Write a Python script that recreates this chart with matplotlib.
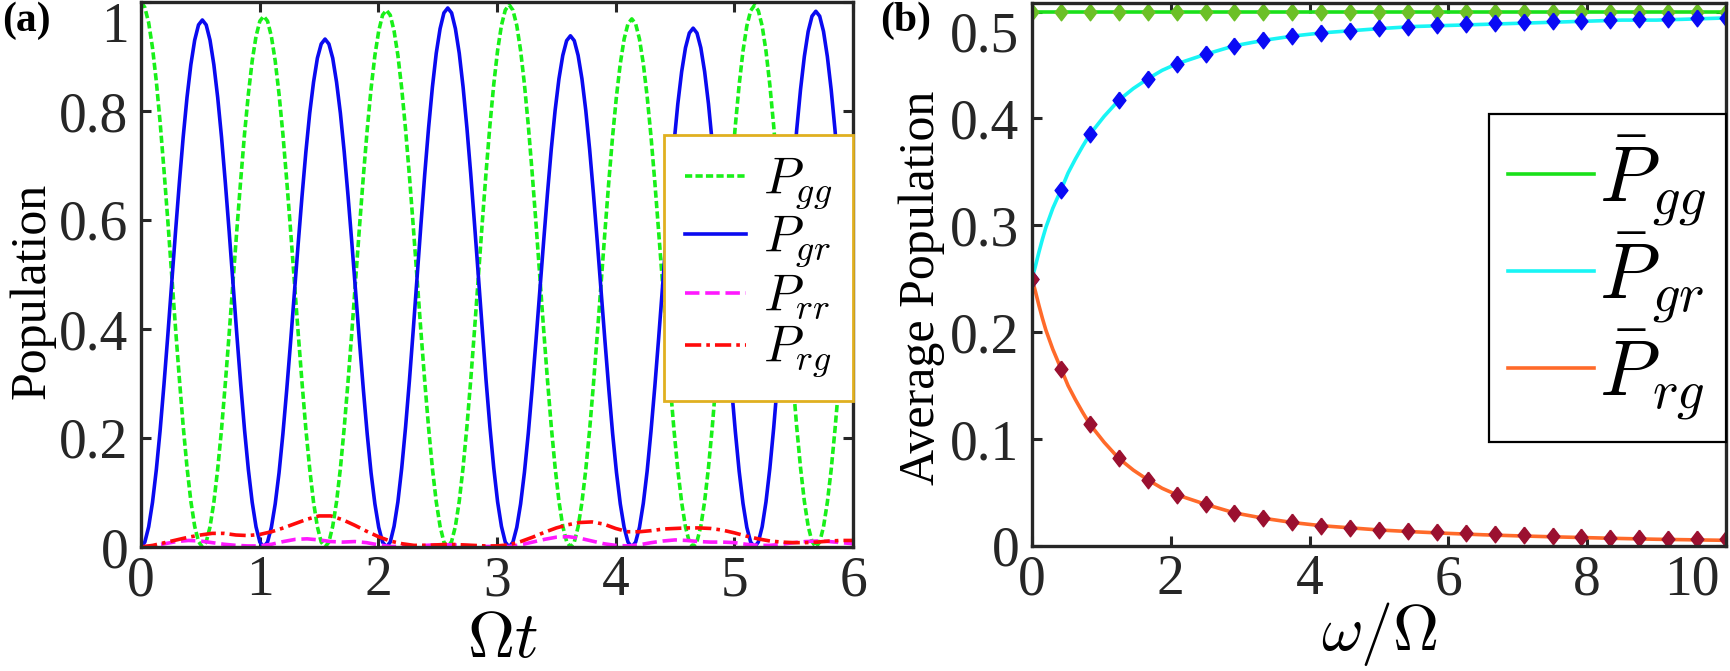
import numpy as np
import matplotlib
matplotlib.use("Agg")
import matplotlib.pyplot as plt
from matplotlib.transforms import ScaledTranslation

plt.rcParams['font.family'] = ['Liberation Serif', 'DejaVu Serif']
plt.rcParams['mathtext.fontset'] = 'cm'

# ---- panel (a): populations vs Omega t (read every ~T/32, T ~ 1.034) ----
t_a = np.linspace(0, 6.01, 187)
P_gg = [1.000, 0.990, 0.962, 0.916, 0.854, 0.778, 0.691, 0.598, 0.500, 0.402, 0.309, 0.222, 0.146, 0.084, 0.038, 0.010, 0.000,
        0.009, 0.037, 0.082, 0.143, 0.216, 0.301, 0.392, 0.487, 0.582, 0.673, 0.758, 0.831, 0.892, 0.937, 0.965, 0.974,
        0.965, 0.937, 0.892, 0.831, 0.758, 0.673, 0.582, 0.487, 0.392, 0.301, 0.216, 0.143, 0.082, 0.037, 0.009, 0.000,
        0.009, 0.038, 0.083, 0.144, 0.219, 0.304, 0.396, 0.493, 0.589, 0.681, 0.766, 0.841, 0.902, 0.947, 0.976, 0.985,
        0.976, 0.947, 0.902, 0.841, 0.766, 0.681, 0.589, 0.493, 0.396, 0.304, 0.219, 0.144, 0.083, 0.038, 0.009, 0.000,
        0.010, 0.038, 0.084, 0.146, 0.221, 0.307, 0.400, 0.498, 0.595, 0.688, 0.774, 0.849, 0.911, 0.957, 0.985, 0.995,
        0.985, 0.957, 0.911, 0.849, 0.774, 0.688, 0.595, 0.498, 0.400, 0.307, 0.221, 0.146, 0.084, 0.038, 0.010, 0.000,
        0.009, 0.037, 0.082, 0.142, 0.215, 0.299, 0.390, 0.485, 0.579, 0.670, 0.754, 0.827, 0.887, 0.932, 0.960, 0.969,
        0.960, 0.932, 0.887, 0.827, 0.754, 0.670, 0.579, 0.485, 0.390, 0.299, 0.215, 0.142, 0.082, 0.037, 0.009, 0.000,
        0.010, 0.038, 0.084, 0.146, 0.221, 0.307, 0.400, 0.497, 0.594, 0.687, 0.773, 0.848, 0.910, 0.956, 0.984, 0.994,
        0.984, 0.956, 0.910, 0.848, 0.773, 0.687, 0.594, 0.497, 0.400, 0.307, 0.221, 0.146, 0.084, 0.038, 0.010, 0.000,
        0.009, 0.037, 0.082, 0.142, 0.216, 0.299, 0.390, 0.485, 0.580, 0.671]
P_gr = [0.000, 0.009, 0.037, 0.082, 0.142, 0.215, 0.299, 0.389, 0.484, 0.578, 0.668, 0.752, 0.825, 0.885, 0.930, 0.958, 0.967,
        0.958, 0.930, 0.885, 0.825, 0.752, 0.668, 0.578, 0.484, 0.389, 0.299, 0.215, 0.142, 0.082, 0.037, 0.009, 0.000,
        0.009, 0.036, 0.079, 0.136, 0.207, 0.288, 0.375, 0.466, 0.557, 0.644, 0.725, 0.796, 0.853, 0.897, 0.923, 0.932,
        0.923, 0.897, 0.853, 0.796, 0.725, 0.644, 0.557, 0.466, 0.375, 0.288, 0.207, 0.136, 0.079, 0.036, 0.009, 0.000,
        0.009, 0.038, 0.083, 0.145, 0.220, 0.305, 0.398, 0.495, 0.591, 0.684, 0.769, 0.844, 0.906, 0.951, 0.980, 0.989,
        0.980, 0.951, 0.906, 0.844, 0.769, 0.684, 0.591, 0.495, 0.398, 0.305, 0.220, 0.145, 0.083, 0.038, 0.009, 0.000,
        0.009, 0.036, 0.079, 0.137, 0.208, 0.290, 0.378, 0.469, 0.560, 0.648, 0.730, 0.801, 0.859, 0.902, 0.929, 0.938,
        0.929, 0.902, 0.859, 0.801, 0.730, 0.648, 0.560, 0.469, 0.378, 0.290, 0.208, 0.137, 0.079, 0.036, 0.009, 0.000,
        0.009, 0.036, 0.080, 0.139, 0.212, 0.294, 0.383, 0.476, 0.569, 0.658, 0.740, 0.813, 0.872, 0.916, 0.943, 0.952,
        0.943, 0.916, 0.872, 0.813, 0.740, 0.658, 0.569, 0.476, 0.383, 0.294, 0.212, 0.139, 0.080, 0.036, 0.009, 0.000,
        0.009, 0.037, 0.083, 0.144, 0.218, 0.303, 0.396, 0.492, 0.587, 0.680, 0.765, 0.839, 0.900, 0.946, 0.974, 0.983,
        0.974, 0.946, 0.900, 0.839, 0.765, 0.680, 0.587, 0.492, 0.396, 0.303]

t_small = np.linspace(0, 6, 61)
P_rr = [0.000, 0.002, 0.006, 0.010, 0.012, 0.011, 0.008, 0.005, 0.003, 0.002,
        0.002, 0.005, 0.010, 0.014, 0.015, 0.013, 0.010, 0.009, 0.010, 0.008,
        0.004, 0.001, 0.001, 0.002, 0.003, 0.004, 0.004, 0.003, 0.002, 0.001,
        0.001, 0.001, 0.004, 0.009, 0.014, 0.018, 0.019, 0.016, 0.011, 0.006,
        0.003, 0.002, 0.004, 0.008, 0.011, 0.013, 0.012, 0.010, 0.009, 0.009,
        0.008, 0.005, 0.003, 0.003, 0.005, 0.008, 0.010, 0.011, 0.010, 0.008,
        0.006]
P_rg = [0.000, 0.003, 0.008, 0.013, 0.018, 0.022, 0.025, 0.025, 0.022, 0.021,
        0.023, 0.028, 0.035, 0.043, 0.051, 0.057, 0.057, 0.050, 0.040, 0.029,
        0.019, 0.011, 0.006, 0.003, 0.003, 0.004, 0.005, 0.004, 0.003, 0.002,
        0.002, 0.004, 0.010, 0.018, 0.027, 0.035, 0.041, 0.045, 0.046, 0.042,
        0.034, 0.028, 0.028, 0.030, 0.033, 0.034, 0.035, 0.035, 0.034, 0.031,
        0.026, 0.020, 0.015, 0.011, 0.009, 0.008, 0.008, 0.009, 0.011, 0.012,
        0.012]

# ---- panel (b): average populations vs omega/Omega ----
w_line = [0, 0.05, 0.1, 0.15, 0.2, 0.3, 0.417, 0.52, 0.625, 0.73, 0.833, 1.04,
          1.25, 1.46, 1.667, 1.875, 2.083, 2.5, 2.917, 3.333, 3.75, 4.167, 4.583,
          5.0, 5.5, 6.0, 6.5, 7.0, 7.5, 8.0, 8.5, 9.0, 9.5, 10.0]
Pgr_line = [0.250, 0.262, 0.275, 0.287, 0.298, 0.316, 0.333, 0.349, 0.362, 0.374,
            0.385, 0.402, 0.417, 0.428, 0.437, 0.445, 0.451, 0.460, 0.468, 0.473,
            0.477, 0.480, 0.482, 0.484, 0.486, 0.487, 0.488, 0.489, 0.490, 0.491,
            0.492, 0.492, 0.493, 0.494]
Prg_line = [0.250, 0.238, 0.225, 0.213, 0.202, 0.184, 0.166, 0.150, 0.137, 0.125,
            0.114, 0.097, 0.082, 0.071, 0.062, 0.054, 0.048, 0.039, 0.031, 0.026,
            0.022, 0.019, 0.017, 0.015, 0.0133, 0.0118, 0.0105, 0.0095, 0.0086,
            0.0078, 0.0070, 0.0063, 0.0058, 0.0053]
Pgg_line = [0.5] * len(w_line)

w_mark = np.linspace(0, 10, 25)
Pgg_mark = [0.5] * 25
Pgr_mark = [0.250, 0.333, 0.385, 0.417, 0.437, 0.451, 0.460, 0.468, 0.473, 0.477,
            0.480, 0.482, 0.485, 0.486, 0.487, 0.488, 0.489, 0.490, 0.491, 0.491,
            0.492, 0.493, 0.493, 0.494, 0.494]
Prg_mark = [0.250, 0.166, 0.114, 0.082, 0.062, 0.048, 0.039, 0.031, 0.026, 0.022,
            0.019, 0.017, 0.0152, 0.014, 0.013, 0.0118, 0.0108, 0.0102, 0.0093,
            0.0087, 0.0078, 0.0071, 0.0068, 0.0063, 0.0062]

W, H = 1730, 671
fig = plt.figure(figsize=(W / 100, H / 100), dpi=100)
ax1 = fig.add_axes([141 / W, 1 - 547 / H, 712 / W, 545 / H])
ax2 = fig.add_axes([1032 / W, 1 - 546 / H, 694 / W, 543 / H])

spine_col = '#262626'
for ax in (ax1, ax2):
    for s in ax.spines.values():
        s.set_linewidth(2.4)
        s.set_color(spine_col)
    ax.tick_params(direction='in', length=7, width=2.2, color=spine_col,
                   top=True, right=True, labelsize=40, labelcolor='#262626')
    ax.tick_params(axis='y', pad=9)
    ax.tick_params(axis='x', pad=6)

# panel (a)
ax1.plot(t_a, P_gg, color='#19F019', lw=2.6, ls=(0, (2.0, 0.9)), label=r'$P_{gg}$')
ax1.plot(t_a, P_gr, color='#0A0AF0', lw=2.6, ls='-', label=r'$P_{gr}$')
ax1.plot(t_small, P_rr, color='#FF19FF', lw=2.6, ls=(0, (4.0, 1.6)), label=r'$P_{rr}$')
ax1.plot(t_small, P_rg, color='#FF0A0A', lw=2.6, ls=(0, (4.5, 1.4, 1.0, 1.4)), label=r'$P_{rg}$')
ax1.set_xlim(0, 6)
ax1.set_ylim(0, 1)
ax1.set_xticks(range(7))
ax1.set_yticks([0, 0.2, 0.4, 0.6, 0.8, 1])
ax1.set_yticklabels(['0', '0.2', '0.4', '0.6', '0.8', '1'])
ax1.get_yticklabels()[-1].set_va('top')
ax1.set_xlabel(r'$\Omega t$', fontsize=47)
ax1.set_ylabel('Population', fontsize=36)
ax1.xaxis.set_label_coords(0.508, -0.118)
ax1.yaxis.set_label_coords(-0.12, 0.47)
leg1 = ax1.legend(loc='upper right', bbox_to_anchor=(1.0, 0.756), borderaxespad=0,
                  fontsize=37, frameon=True, fancybox=False, framealpha=1,
                  handlelength=1.2, handletextpad=0.33, borderpad=0.4,
                  labelspacing=0.05)
leg1.get_frame().set_edgecolor('#E0B020')
leg1.get_frame().set_linewidth(2.0)

# panel (b)
diamond = [(0, 1), (0.77, 0), (0, -1), (-0.77, 0), (0, 1)]
ax2.plot(w_line, Pgg_line, color='#1AE01A', lw=2.6, label=r'$\bar{P}_{gg}$')
ax2.plot(w_line, Pgr_line, color='#19F5F5', lw=2.6, label=r'$\bar{P}_{gr}$')
ax2.plot(w_line, Prg_line, color='#FF6A2A', lw=2.6, label=r'$\bar{P}_{rg}$')
ax2.plot(w_mark, Pgg_mark, ls='none', marker=diamond, ms=12, mew=1, color='#6CC027')
ax2.plot(w_mark, Pgr_mark, ls='none', marker=diamond, ms=12, mew=1, color='#0A0AF5')
ax2.plot(w_mark, Prg_mark, ls='none', marker=diamond, ms=12, mew=1, color='#9B1030')
ax2.set_xlim(0, 10)
ax2.set_ylim(0, 0.508)
ax2.set_xticks([0, 2, 4, 6, 8, 10])
ax2.set_yticks([0, 0.1, 0.2, 0.3, 0.4, 0.5])
ax2.set_yticklabels(['0', '0.1', '0.2', '0.3', '0.4', '0.5'])
last_x = ax2.get_xticklabels()[-1]
last_x.set_ha('right')
last_x.set_transform(last_x.get_transform() + ScaledTranslation(-6 / 100, 0, fig.dpi_scale_trans))
ax2.get_yticklabels()[-1].set_va('top')
ax2.set_xlabel(r'$\omega/\Omega$', fontsize=46)
ax2.set_ylabel('Average Population', fontsize=36)
ax2.xaxis.set_label_coords(0.501, -0.1)
ax2.yaxis.set_label_coords(-0.125, 0.475)
leg2 = ax2.legend(loc='upper right', bbox_to_anchor=(1.0, 0.7956), borderaxespad=0,
                  fontsize=56, frameon=True, fancybox=False, framealpha=1,
                  handlelength=1.1, handletextpad=0.07, borderpad=0.25,
                  labelspacing=0.03)
leg2.get_frame().set_edgecolor('black')
leg2.get_frame().set_linewidth(1.6)

fig.text(2 / W, 1 - 2 / H, '(a)', fontsize=30, fontweight='bold', ha='left', va='top')
fig.text(880 / W, 1 - 2 / H, '(b)', fontsize=30, fontweight='bold', ha='left', va='top')

fig.savefig('out.png', dpi=100)
